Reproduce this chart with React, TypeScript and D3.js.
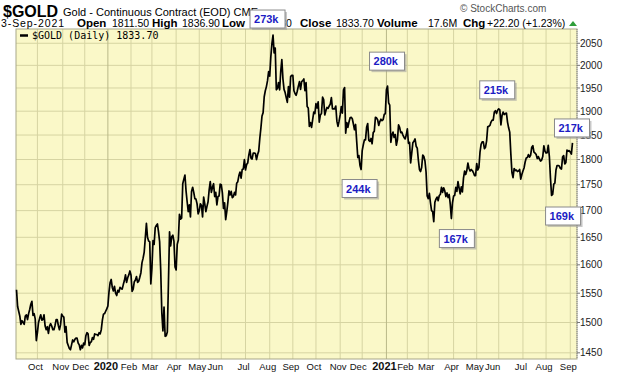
import React, { useMemo } from "react";
import * as d3 from "d3";

type Pt = [string, number];

// US market holidays inside the chart window (not plotted as trading days)
const holidays = [
  "2019-11-28", "2019-12-25", "2020-01-01", "2020-01-20", "2020-02-17", "2020-04-10",
  "2020-05-25", "2020-07-03", "2020-09-07", "2020-11-26", "2020-12-25", "2021-01-01",
  "2021-01-18", "2021-02-15", "2021-04-02", "2021-05-31", "2021-07-05", "2021-09-06",
];

const gold2019: Pt[] = [
  ["2019-09-04", 1556], ["2019-09-05", 1527], ["2019-09-06", 1519], ["2019-09-09", 1511], ["2019-09-10", 1497],
  ["2019-09-11", 1503], ["2019-09-12", 1500], ["2019-09-13", 1497], ["2019-09-16", 1511], ["2019-09-17", 1513],
  ["2019-09-18", 1505], ["2019-09-19", 1515], ["2019-09-20", 1522], ["2019-09-23", 1531], ["2019-09-24", 1536],
  ["2019-09-25", 1512], ["2019-09-26", 1515], ["2019-09-27", 1506], ["2019-09-30", 1470], ["2019-10-01", 1483],
  ["2019-10-02", 1500], ["2019-10-03", 1507], ["2019-10-04", 1513], ["2019-10-07", 1504], ["2019-10-08", 1505],
  ["2019-10-09", 1513], ["2019-10-10", 1494], ["2019-10-11", 1488], ["2019-10-14", 1493], ["2019-10-15", 1482],
  ["2019-10-16", 1494], ["2019-10-17", 1498], ["2019-10-18", 1494], ["2019-10-21", 1488], ["2019-10-22", 1488],
  ["2019-10-23", 1495], ["2019-10-24", 1505], ["2019-10-25", 1505], ["2019-10-28", 1495], ["2019-10-29", 1488],
  ["2019-10-30", 1496], ["2019-10-31", 1514], ["2019-11-01", 1511], ["2019-11-04", 1509], ["2019-11-05", 1484],
  ["2019-11-06", 1493], ["2019-11-07", 1467], ["2019-11-08", 1462], ["2019-11-11", 1457], ["2019-11-12", 1455],
  ["2019-11-13", 1463], ["2019-11-14", 1471], ["2019-11-15", 1468], ["2019-11-18", 1472], ["2019-11-19", 1474],
  ["2019-11-20", 1474], ["2019-11-21", 1466], ["2019-11-22", 1463], ["2019-11-25", 1455], ["2019-11-26", 1462],
  ["2019-11-27", 1458], ["2019-11-29", 1466], ["2019-12-02", 1463], ["2019-12-03", 1478], ["2019-12-04", 1483],
  ["2019-12-05", 1481], ["2019-12-06", 1462], ["2019-12-09", 1467], ["2019-12-10", 1468], ["2019-12-11", 1475],
  ["2019-12-12", 1472], ["2019-12-13", 1481], ["2019-12-16", 1480], ["2019-12-17", 1480], ["2019-12-18", 1478],
  ["2019-12-19", 1483], ["2019-12-20", 1481], ["2019-12-23", 1488], ["2019-12-24", 1504], ["2019-12-26", 1514],
  ["2019-12-27", 1515], ["2019-12-30", 1519], ["2019-12-31", 1523],
];

const gold2020H1: Pt[] = [
  ["2020-01-02", 1528], ["2020-01-03", 1552], ["2020-01-06", 1568], ["2020-01-07", 1574], ["2020-01-08", 1560],
  ["2020-01-09", 1554], ["2020-01-10", 1562], ["2020-01-13", 1550], ["2020-01-14", 1546], ["2020-01-15", 1555],
  ["2020-01-16", 1552], ["2020-01-17", 1560], ["2020-01-21", 1558], ["2020-01-22", 1557], ["2020-01-23", 1565],
  ["2020-01-24", 1572], ["2020-01-27", 1582], ["2020-01-28", 1569], ["2020-01-29", 1577], ["2020-01-30", 1582],
  ["2020-01-31", 1589], ["2020-02-03", 1582], ["2020-02-04", 1553], ["2020-02-05", 1557], ["2020-02-06", 1570],
  ["2020-02-07", 1573], ["2020-02-10", 1579], ["2020-02-11", 1569], ["2020-02-12", 1571], ["2020-02-13", 1578],
  ["2020-02-14", 1586], ["2020-02-18", 1604], ["2020-02-19", 1612], ["2020-02-20", 1623], ["2020-02-21", 1649],
  ["2020-02-24", 1676], ["2020-02-25", 1650], ["2020-02-26", 1643], ["2020-02-27", 1642], ["2020-02-28", 1566],
  ["2020-03-02", 1594], ["2020-03-03", 1644], ["2020-03-04", 1637], ["2020-03-05", 1668], ["2020-03-06", 1672],
  ["2020-03-09", 1675], ["2020-03-10", 1660], ["2020-03-11", 1642], ["2020-03-12", 1590], ["2020-03-13", 1516],
  ["2020-03-16", 1486], ["2020-03-17", 1526], ["2020-03-18", 1477], ["2020-03-19", 1478], ["2020-03-20", 1484],
  ["2020-03-23", 1567], ["2020-03-24", 1660], ["2020-03-25", 1634], ["2020-03-26", 1651], ["2020-03-27", 1654],
  ["2020-03-30", 1643], ["2020-03-31", 1596], ["2020-04-01", 1591], ["2020-04-02", 1637], ["2020-04-03", 1645],
  ["2020-04-06", 1693], ["2020-04-07", 1684], ["2020-04-08", 1686], ["2020-04-09", 1752], ["2020-04-13", 1761],
  ["2020-04-14", 1769], ["2020-04-15", 1738], ["2020-04-16", 1717], ["2020-04-17", 1698], ["2020-04-20", 1711],
  ["2020-04-21", 1688], ["2020-04-22", 1737], ["2020-04-23", 1745], ["2020-04-24", 1735], ["2020-04-27", 1723],
  ["2020-04-28", 1722], ["2020-04-29", 1713], ["2020-04-30", 1694], ["2020-05-01", 1700], ["2020-05-04", 1713],
  ["2020-05-05", 1710], ["2020-05-06", 1688], ["2020-05-07", 1726], ["2020-05-08", 1713], ["2020-05-11", 1698],
  ["2020-05-12", 1708], ["2020-05-13", 1717], ["2020-05-14", 1740], ["2020-05-15", 1756], ["2020-05-18", 1735],
  ["2020-05-19", 1745], ["2020-05-20", 1752], ["2020-05-21", 1727], ["2020-05-22", 1735], ["2020-05-26", 1711],
  ["2020-05-27", 1727], ["2020-05-28", 1728], ["2020-05-29", 1751], ["2020-06-01", 1750], ["2020-06-02", 1734],
  ["2020-06-03", 1704], ["2020-06-04", 1715], ["2020-06-05", 1683], ["2020-06-08", 1698], ["2020-06-09", 1716],
  ["2020-06-10", 1738], ["2020-06-11", 1730], ["2020-06-12", 1737], ["2020-06-15", 1725], ["2020-06-16", 1727],
  ["2020-06-17", 1735], ["2020-06-18", 1730], ["2020-06-19", 1753], ["2020-06-22", 1756], ["2020-06-23", 1768],
  ["2020-06-24", 1775], ["2020-06-25", 1763], ["2020-06-26", 1780], ["2020-06-29", 1781], ["2020-06-30", 1800],
];

const gold2020H2: Pt[] = [
  ["2020-07-01", 1779], ["2020-07-02", 1790], ["2020-07-06", 1793], ["2020-07-07", 1809], ["2020-07-08", 1820],
  ["2020-07-09", 1803], ["2020-07-10", 1801], ["2020-07-13", 1813], ["2020-07-14", 1813], ["2020-07-15", 1812],
  ["2020-07-16", 1800], ["2020-07-17", 1810], ["2020-07-20", 1817], ["2020-07-21", 1843], ["2020-07-22", 1865],
  ["2020-07-23", 1890], ["2020-07-24", 1897], ["2020-07-27", 1931], ["2020-07-28", 1944], ["2020-07-29", 1953],
  ["2020-07-30", 1966], ["2020-07-31", 1986], ["2020-08-03", 1976], ["2020-08-04", 2019], ["2020-08-05", 2049],
  ["2020-08-06", 2069], ["2020-08-07", 2028], ["2020-08-10", 2039], ["2020-08-11", 1946], ["2020-08-12", 1949],
  ["2020-08-13", 1962], ["2020-08-14", 1946], ["2020-08-17", 1986], ["2020-08-18", 2013], ["2020-08-19", 1970],
  ["2020-08-20", 1947], ["2020-08-21", 1940], ["2020-08-24", 1929], ["2020-08-25", 1919], ["2020-08-26", 1953],
  ["2020-08-27", 1930], ["2020-08-28", 1975], ["2020-08-31", 1978], ["2020-09-01", 1978], ["2020-09-02", 1944],
  ["2020-09-03", 1938], ["2020-09-04", 1934], ["2020-09-08", 1943], ["2020-09-09", 1954], ["2020-09-10", 1964],
  ["2020-09-11", 1947], ["2020-09-14", 1964], ["2020-09-15", 1966], ["2020-09-16", 1970], ["2020-09-17", 1944],
  ["2020-09-18", 1962], ["2020-09-21", 1910], ["2020-09-22", 1907], ["2020-09-23", 1868], ["2020-09-24", 1876],
  ["2020-09-25", 1866], ["2020-09-28", 1882], ["2020-09-29", 1898], ["2020-09-30", 1895], ["2020-10-01", 1916],
  ["2020-10-02", 1907], ["2020-10-05", 1920], ["2020-10-06", 1877], ["2020-10-07", 1892], ["2020-10-08", 1895],
  ["2020-10-09", 1930], ["2020-10-12", 1925], ["2020-10-13", 1892], ["2020-10-14", 1901], ["2020-10-15", 1908],
  ["2020-10-16", 1906], ["2020-10-19", 1911], ["2020-10-20", 1915], ["2020-10-21", 1929], ["2020-10-22", 1905],
  ["2020-10-23", 1905], ["2020-10-26", 1905], ["2020-10-27", 1911], ["2020-10-28", 1879], ["2020-10-29", 1868],
  ["2020-10-30", 1879], ["2020-11-02", 1892], ["2020-11-03", 1910], ["2020-11-04", 1896], ["2020-11-05", 1946],
  ["2020-11-06", 1951], ["2020-11-09", 1854], ["2020-11-10", 1876], ["2020-11-11", 1866], ["2020-11-12", 1877],
  ["2020-11-13", 1886], ["2020-11-16", 1887], ["2020-11-17", 1884], ["2020-11-18", 1873], ["2020-11-19", 1861],
  ["2020-11-20", 1872], ["2020-11-23", 1837], ["2020-11-24", 1804], ["2020-11-25", 1808], ["2020-11-27", 1788],
  ["2020-11-30", 1780], ["2020-12-01", 1818], ["2020-12-02", 1830], ["2020-12-03", 1840], ["2020-12-04", 1840],
  ["2020-12-07", 1866], ["2020-12-08", 1874], ["2020-12-09", 1839], ["2020-12-10", 1837], ["2020-12-11", 1843],
  ["2020-12-14", 1832], ["2020-12-15", 1855], ["2020-12-16", 1858], ["2020-12-17", 1887], ["2020-12-18", 1886],
  ["2020-12-21", 1882], ["2020-12-22", 1870], ["2020-12-23", 1878], ["2020-12-24", 1883], ["2020-12-28", 1880],
  ["2020-12-29", 1882], ["2020-12-30", 1893], ["2020-12-31", 1895],
];

const gold2021H1: Pt[] = [
  ["2021-01-04", 1946], ["2021-01-05", 1954], ["2021-01-06", 1918], ["2021-01-07", 1913], ["2021-01-08", 1835],
  ["2021-01-11", 1850], ["2021-01-12", 1856], ["2021-01-13", 1845], ["2021-01-14", 1851], ["2021-01-15", 1829],
  ["2021-01-19", 1840], ["2021-01-20", 1871], ["2021-01-21", 1866], ["2021-01-22", 1855], ["2021-01-25", 1856],
  ["2021-01-26", 1850], ["2021-01-27", 1845], ["2021-01-28", 1842], ["2021-01-29", 1850], ["2021-02-01", 1863],
  ["2021-02-02", 1833], ["2021-02-03", 1835], ["2021-02-04", 1793], ["2021-02-05", 1813], ["2021-02-08", 1834],
  ["2021-02-09", 1837], ["2021-02-10", 1842], ["2021-02-11", 1827], ["2021-02-12", 1823], ["2021-02-16", 1799],
  ["2021-02-17", 1780], ["2021-02-18", 1776], ["2021-02-19", 1784], ["2021-02-22", 1809], ["2021-02-23", 1806],
  ["2021-02-24", 1797], ["2021-02-25", 1775], ["2021-02-26", 1728], ["2021-03-01", 1723], ["2021-03-02", 1733],
  ["2021-03-03", 1715], ["2021-03-04", 1700], ["2021-03-05", 1698], ["2021-03-08", 1679], ["2021-03-09", 1716],
  ["2021-03-10", 1722], ["2021-03-11", 1726], ["2021-03-12", 1719], ["2021-03-15", 1729], ["2021-03-16", 1731],
  ["2021-03-17", 1745], ["2021-03-18", 1735], ["2021-03-19", 1744], ["2021-03-22", 1738], ["2021-03-23", 1727],
  ["2021-03-24", 1734], ["2021-03-25", 1725], ["2021-03-26", 1731], ["2021-03-29", 1712], ["2021-03-30", 1685],
  ["2021-03-31", 1715], ["2021-04-01", 1728], ["2021-04-05", 1729], ["2021-04-06", 1745], ["2021-04-07", 1737],
  ["2021-04-08", 1756], ["2021-04-09", 1744], ["2021-04-12", 1732], ["2021-04-13", 1746], ["2021-04-14", 1736],
  ["2021-04-15", 1763], ["2021-04-16", 1777], ["2021-04-19", 1770], ["2021-04-20", 1778], ["2021-04-21", 1793],
  ["2021-04-22", 1782], ["2021-04-23", 1777], ["2021-04-26", 1780], ["2021-04-27", 1778], ["2021-04-28", 1774],
  ["2021-04-29", 1768], ["2021-04-30", 1768], ["2021-05-03", 1792], ["2021-05-04", 1779], ["2021-05-05", 1784],
  ["2021-05-06", 1815], ["2021-05-07", 1831], ["2021-05-10", 1836], ["2021-05-11", 1836], ["2021-05-12", 1822],
  ["2021-05-13", 1825], ["2021-05-14", 1838], ["2021-05-17", 1867], ["2021-05-18", 1868], ["2021-05-19", 1870],
  ["2021-05-20", 1877], ["2021-05-21", 1881], ["2021-05-24", 1881], ["2021-05-25", 1898], ["2021-05-26", 1901],
  ["2021-05-27", 1895], ["2021-05-28", 1902], ["2021-06-01", 1905], ["2021-06-02", 1903], ["2021-06-03", 1871],
  ["2021-06-04", 1891], ["2021-06-07", 1898], ["2021-06-08", 1893], ["2021-06-09", 1895], ["2021-06-10", 1896],
  ["2021-06-11", 1877], ["2021-06-14", 1865], ["2021-06-15", 1856], ["2021-06-16", 1812], ["2021-06-17", 1774],
  ["2021-06-18", 1764], ["2021-06-21", 1782], ["2021-06-22", 1778], ["2021-06-23", 1779], ["2021-06-24", 1776],
  ["2021-06-25", 1777], ["2021-06-28", 1780], ["2021-06-29", 1761], ["2021-06-30", 1770],
];

const gold2021H2: Pt[] = [
  ["2021-07-01", 1777], ["2021-07-02", 1783], ["2021-07-06", 1795], ["2021-07-07", 1803], ["2021-07-08", 1804],
  ["2021-07-09", 1810], ["2021-07-12", 1805], ["2021-07-13", 1809], ["2021-07-14", 1825], ["2021-07-15", 1828],
  ["2021-07-16", 1815], ["2021-07-19", 1813], ["2021-07-20", 1810], ["2021-07-21", 1802], ["2021-07-22", 1806],
  ["2021-07-23", 1801], ["2021-07-26", 1797], ["2021-07-27", 1799], ["2021-07-28", 1806], ["2021-07-29", 1828],
  ["2021-07-30", 1817], ["2021-08-02", 1813], ["2021-08-03", 1814], ["2021-08-04", 1829], ["2021-08-05", 1806],
  ["2021-08-06", 1763], ["2021-08-09", 1729], ["2021-08-10", 1731], ["2021-08-11", 1751], ["2021-08-12", 1753],
  ["2021-08-13", 1779], ["2021-08-16", 1788], ["2021-08-17", 1788], ["2021-08-18", 1787], ["2021-08-19", 1782],
  ["2021-08-20", 1781], ["2021-08-23", 1805], ["2021-08-24", 1808], ["2021-08-25", 1791], ["2021-08-26", 1794],
  ["2021-08-27", 1819], ["2021-08-30", 1817], ["2021-08-31", 1818], ["2021-09-01", 1815], ["2021-09-02", 1811],
  ["2021-09-03", 1833.7],
];

const yTicks = [1450, 1500, 1550, 1600, 1650, 1700, 1750, 1800, 1850, 1900, 1950, 2000, 2050];
const monthNames = ["Jan", "Feb", "Mar", "Apr", "May", "Jun", "Jul", "Aug", "Sep", "Oct", "Nov", "Dec"];

// volume call-outs at turning points
const calloutLabels = ["273k", "280k", "215k", "217k", "244k", "167k", "169k"];
const calloutDates = ["2020-08-06", "2021-01-05", "2021-06-01", "2021-09-03", "2020-11-30", "2021-03-30", "2021-08-09"];

const headerDate = "3-Sep-2021";
const headerFields: [string, string][] = [
  ["Open", "1811.50"], ["High", "1836.90"], ["Low", "1808.80"], ["Close", "1833.70"], ["Volume", "17.6M"], ["Chg", "+22.20 (+1.23%)"],
];

// ---------- layout (pixels / styles only) ----------
const W = 620, H = 376;
const PL = 16, PR = 577, PT = 29, PB = 359;
const SANS = "'Liberation Sans', Arial, sans-serif";
const headerX = [77, 112, 152, 182, 222, 254, 300, 336, 377, 428, 463, 487];
const calloutOffsets: [number, number][] = [[-23, -25], [-18, -34], [-19, -28], [-18, -24], [-19, 10], [-12, 11], [-6, 11.5]];
const labelShift: Record<string, number> = { Dec: -4, Jun: -6 };

export default function App() {
  const parse = d3.utcParse("%Y-%m-%d");
  const fmt = d3.utcFormat("%Y-%m-%d");

  const times = useMemo(() => {
    const hol = new Set(holidays);
    return d3
      .utcDay.range(new Date(Date.UTC(2019, 8, 3)), new Date(Date.UTC(2021, 8, 15)))
      .filter((d) => d.getUTCDay() !== 0 && d.getUTCDay() !== 6 && !hol.has(fmt(d)))
      .map((d) => +d);
  }, []);

  const idx = (s: string) => d3.bisectLeft(times, +(parse(s) as Date));

  const series: Pt[] = [...gold2019, ...gold2020H1, ...gold2020H2, ...gold2021H1, ...gold2021H2];

  const x = d3.scaleLinear().domain([0.546, 510.1]).range([PL, PR]);
  const y = d3.scaleLog().domain([1440, 2083]).range([PB, PT]);

  const line = d3
    .line<Pt>()
    .x((d) => x(idx(d[0])))
    .y((d) => y(d[1]));

  const months = d3.utcMonth.range(new Date(Date.UTC(2019, 9, 1)), new Date(Date.UTC(2021, 8, 2)));
  const monthTicks = months.map((m) => {
    const i = d3.bisectLeft(times, +m);
    const mi = m.getUTCMonth();
    const isYear = mi === 0;
    const name = isYear ? String(m.getUTCFullYear()) : monthNames[mi];
    return { xpos: x(i), name, isYear, shift: labelShift[name] ?? -2 };
  });

  const last = series[series.length - 1];

  return (
    <svg
      width={W}
      height={H}
      viewBox={`0 0 ${W} ${H}`}
      style={{ position: "fixed", left: 0, top: 0, background: "#fff" }}
      fontFamily={SANS}
    >
      <rect x={0} y={0} width={W} height={H} fill="#fff" />
      {/* plot background */}
      <rect x={PL} y={PT} width={PR - PL} height={PB - PT} fill="#FAF8C8" />
      {/* horizontal grid */}
      {yTicks.map((t) => (
        <line key={t} x1={PL} x2={PR} y1={y(t)} y2={y(t)} stroke="#D6D4A2" strokeWidth={1} />
      ))}
      {/* vertical grid */}
      {monthTicks.map((m, i) => (
        <line
          key={i}
          x1={m.xpos}
          x2={m.xpos}
          y1={PT}
          y2={PB}
          stroke={m.isYear ? "#B9B889" : "#D6D4A2"}
          strokeWidth={1}
        />
      ))}
      {/* frame */}
      <rect x={PL} y={PT} width={PR - PL} height={PB - PT} fill="none" stroke="#A8A78A" strokeWidth={1} />
      <line x1={PR} x2={PR} y1={PT} y2={PB} stroke="#888" strokeDasharray="1,1" />

      {/* price line */}
      <path d={line(series) || ""} fill="none" stroke="#000" strokeWidth={1.7} strokeLinejoin="round" />

      {/* right axis */}
      {yTicks.map((t) => (
        <g key={t}>
          <line x1={PR} x2={PR + 3} y1={y(t)} y2={y(t)} stroke="#777" />
          <text x={PR + 3} y={y(t) + 3.6} fontSize={10} fill="#222">
            {t}
          </text>
        </g>
      ))}

      {/* bottom axis labels */}
      {monthTicks.map((m, i) => (
        <text
          key={i}
          x={m.xpos + m.shift}
          y={370}
          textAnchor="middle"
          fontSize={m.isYear ? 11 : 9.5}
          fontWeight={m.isYear ? "bold" : "normal"}
          fill="#111"
        >
          {m.name}
        </text>
      ))}

      {/* legend */}
      <line x1={20} x2={28} y1={35.5} y2={35.5} stroke="#000" strokeWidth={2.5} />
      <text x={32} y={39} fontSize={10} fontFamily="'DejaVu Sans Mono', monospace" fill="#000">
        {`$GOLD (Daily) ${last[1].toFixed(2)}`}
      </text>

      {/* header */}
      <text x={3} y={17} fontSize={16} fontWeight="bold" fill="#000">
        $GOLD
      </text>
      <text x={63} y={16} fontSize={11} fill="#000">
        Gold - Continuous Contract (EOD) CME
      </text>
      <text x={460} y={12} fontSize={10} fill="#555">
        © StockCharts.com
      </text>
      <text x={1} y={27} fontSize={10.5} letterSpacing={0.9} fill="#000">
        {headerDate}
      </text>
      {headerFields.map(([k, v], i) => (
        <g key={k}>
          <text x={headerX[i * 2]} y={27} fontSize={11.5} fontWeight="bold" fill="#000">
            {k}
          </text>
          <text x={headerX[i * 2 + 1]} y={27} fontSize={10.5} fill="#000">
            {v}
          </text>
        </g>
      ))}
      <path d="M569,26 L577,26 L573,21 Z" fill="#2E9E3A" />

      {/* volume call-outs */}
      {calloutLabels.map((lab, i) => {
        const d = calloutDates[i];
        const pt = series.find((p) => p[0] === d)!;
        const bx = x(idx(d)) + calloutOffsets[i][0];
        const by = y(pt[1]) + calloutOffsets[i][1];
        return (
          <g key={lab}>
            <rect x={bx + 2} y={by + 2} width={35} height={18} fill="#9a9a9a" opacity={0.55} />
            <rect x={bx} y={by} width={35} height={18} fill="#fff" stroke="#8a8a8a" strokeWidth={1} />
            <text x={bx + 4} y={by + 13} fontSize={11} fontWeight="bold" fill="#1C1CC4">
              {lab}
            </text>
          </g>
        );
      })}
    </svg>
  );
}
